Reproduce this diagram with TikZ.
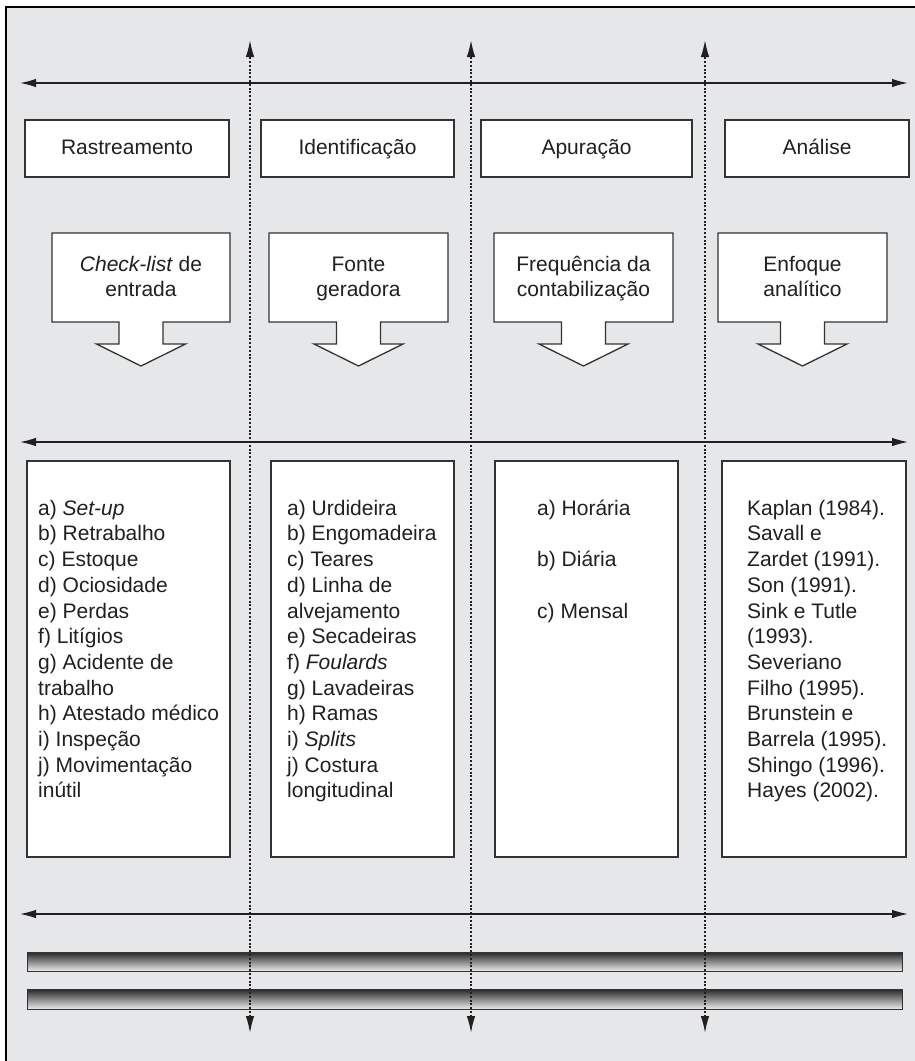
\documentclass[tikz,border=0pt]{standalone}
\usepackage{fontspec}
\setmainfont{Liberation Sans}
\usetikzlibrary{arrows.meta}
\definecolor{bg}{HTML}{E6E7E8}
\definecolor{ink}{HTML}{231F20}
\definecolor{edge}{HTML}{333333}
\newcommand\fs{\rule{0pt}{19pt}}
\newcommand\downbox[4]{%
  \draw[boxline] (#2-#3,233) -- (#2+#3,233) -- (#2+#3,322) -- (#2+22,322) -- (#2+22,344)
    -- (#2+44.5,344) -- (#2,366) -- (#2-44.5,344) -- (#2-22,344) -- (#2-22,322)
    -- (#2-#3,322) -- cycle;
  \node[txt, align=center, anchor=north] (#1) at (#2,252) {\fs #4};}
\begin{document}
\begin{tikzpicture}[x=1pt,y=-1pt,
  boxline/.style={draw=edge, line width=1.3pt, fill=white},
  txt/.style={font=\fontsize{21}{25.7}\selectfont, text=ink, inner sep=0pt},
  titlebox/.style={boxline, txt, minimum height=57pt, text height=15pt, text depth=3pt},
  contentbox/.style={boxline, minimum height=396pt, inner sep=0pt},
  listtext/.style={txt, align=left, anchor=north west},
  harrow/.style={draw=ink, line width=1.2pt, {Latex[length=16pt,width=8.5pt]}-{Latex[length=16pt,width=8.5pt]}},
  varrow/.style={draw=ink, line width=1.5pt, dash pattern=on 2pt off 1.8pt, {Latex[length=17pt,width=8.5pt]}-{Latex[length=17pt,width=8.5pt]}},
  bar/.style={draw=edge, line width=1pt, top color=black!85, bottom color=black!8, minimum width=875pt, inner sep=0pt}
]
\useasboundingbox (0,0) rectangle (915,1061);
% frame
\fill[bg] (6,7) rectangle (916,1062);
\draw[black, line width=2pt] (6,1062) -- (6,7) -- (916,7);

% title boxes
\node[titlebox, minimum width=204pt] (tb1) at (127,148.5) {Rastreamento};
\node[titlebox, minimum width=193pt] (tb2) at (357.5,148.5) {Identificação};
\node[titlebox, minimum width=211pt] (tb3) at (586.5,148.5) {Apuração};
\node[titlebox, minimum width=184pt] (tb4) at (817,148.5) {Análise};

% down-arrow boxes
\downbox{ab1}{141}{89}{\textit{Check-list} de\\entrada}
\downbox{ab2}{358.5}{89.5}{Fonte\\geradora}
\downbox{ab3}{583.5}{89.5}{Frequência da\\contabilização}
\downbox{ab4}{802.5}{84.5}{Enfoque\\analítico}

% content boxes
\node[contentbox, minimum width=203pt] (cb1) at (128.5,659) {};
\node[contentbox, minimum width=183pt] (cb2) at (362.5,659) {};
\node[contentbox, minimum width=183pt] (cb3) at (586.5,659) {};
\node[contentbox, minimum width=184pt] (cb4) at (814,659) {};

\node[listtext] (t1) at (38,496) {\fs a) \textit{Set-up}\\b) Retrabalho\\c) Estoque\\d) Ociosidade\\e) Perdas\\f) Litígios\\g) Acidente de\\trabalho\\h) Atestado médico\\i) Inspeção\\j) Movimentação\\inútil};
\node[listtext] (t2) at (287,496) {\fs a) Urdideira\\b) Engomadeira\\c) Teares\\d) Linha de\\alvejamento\\e) Secadeiras\\f) \textit{Foulards}\\g) Lavadeiras\\h) Ramas\\i) \textit{Splits}\\j) Costura\\longitudinal};
\node[listtext] (t3) at (537,496) {\fs a) Horária\\[25.7pt]b) Diária\\[25.7pt]c) Mensal};
\node[listtext] (t4) at (747,496) {\fs Kaplan (1984).\\Savall e\\Zardet (1991).\\Son (1991).\\Sink e Tutle\\(1993).\\Severiano\\Filho (1995).\\Brunstein e\\Barrela (1995).\\Shingo (1996).\\Hayes (2002).};

% bars
\node[bar, minimum height=19pt] (bar1) at (464.5,961.5) {};
\node[bar, minimum height=20pt] (bar2) at (464.5,999) {};

% horizontal arrows
\coordinate (hl1) at (20,83);  \coordinate (hr1) at (908,83);
\coordinate (hl2) at (20,442); \coordinate (hr2) at (908,442);
\coordinate (hl3) at (20,914); \coordinate (hr3) at (908,914);
\draw[harrow, line width=1.6pt] (hl1) -- (hr1);
\draw[harrow] (hl2) -- (hr2);
\draw[harrow] (hl3) -- (hr3);

% vertical dotted arrows
\coordinate (vt1) at (250,40);  \coordinate (vb1) at (250,1033);
\coordinate (vt2) at (471,40);  \coordinate (vb2) at (471,1033);
\coordinate (vt3) at (705,40);  \coordinate (vb3) at (705,1033);
\draw[varrow] (vb1) -- (vt1);
\draw[varrow] (vb2) -- (vt2);
\draw[varrow] (vb3) -- (vt3);
\end{tikzpicture}
\end{document}
